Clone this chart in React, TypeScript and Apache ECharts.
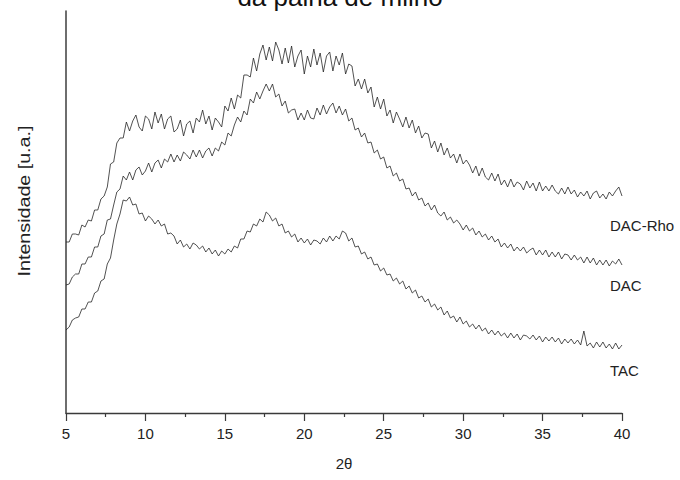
import React, { useEffect, useRef } from "react";
import * as echarts from "echarts";

const THETA_START = 5;
const THETA_STEP = 0.2;

const dacRho = [
  171,171,179,179,178,188,186,193,192,203,
  203,214,217,226,249,251,270,275,275,291,
  282,292,298,286,282,297,294,284,301,290,
  299,284,294,297,281,284,293,277,289,292,
  280,295,291,303,289,297,283,295,291,286,
  307,302,315,304,318,315,338,338,336,355,
  342,359,368,353,366,352,371,363,349,365,
  350,367,346,357,363,339,357,346,364,348,
  360,341,357,361,342,357,348,360,339,349,
  347,327,334,324,334,320,326,306,316,304,
  314,297,303,290,301,294,286,296,285,293,
  280,287,275,280,279,265,272,261,270,258,
  265,255,259,250,259,249,253,248,240,247,
  237,245,236,233,240,232,239,228,233,226,
  234,226,231,229,223,232,225,230,222,231,
  222,227,222,228,222,219,225,219,226,219,
  223,216,221,217,222,214,220,222,215,219,
  214,221,217,222,226,217,
];

const dac = [
  128,129,136,139,139,149,149,156,156,166,
  166,177,179,193,194,208,221,224,237,233,
  241,233,243,246,238,242,250,241,250,253,
  245,254,251,259,251,258,252,261,258,254,
  263,256,263,255,262,265,257,265,262,271,
  268,280,277,288,296,291,302,298,314,310,
  321,314,322,329,322,329,316,319,307,312,
  300,303,304,293,300,293,303,295,294,305,
  298,308,299,306,310,300,307,298,304,292,
  295,283,285,276,280,270,271,260,263,254,
  256,245,247,237,240,232,234,224,225,217,
  221,213,215,207,210,203,208,200,197,201,
  193,196,190,193,189,183,188,182,185,178,
  182,176,179,173,177,171,174,166,170,165,
  169,162,166,162,166,160,163,165,158,163,
  158,163,156,161,156,161,154,159,158,153,
  158,153,156,150,156,150,155,148,153,148,
  153,147,152,149,154,148,
];

const tac = [
  83,86,93,95,96,104,104,111,111,120,
  122,132,134,149,155,173,189,199,213,212,
  216,208,209,199,200,192,197,194,189,193,
  187,189,179,180,177,169,173,166,169,164,
  170,168,164,167,161,165,159,163,157,162,
  159,164,161,167,165,174,174,182,181,189,
  187,194,191,201,198,192,195,187,189,180,
  182,176,179,171,175,170,174,168,173,172,
  169,175,171,177,172,177,174,182,180,172,
  175,166,167,159,161,154,156,148,149,142,
  145,138,139,132,135,129,132,124,127,120,
  123,115,117,111,114,106,109,103,106,98,
  102,95,97,91,96,89,92,86,89,84,
  88,82,85,79,83,78,82,77,80,75,
  80,75,79,73,78,77,74,78,73,77,
  71,76,72,76,71,75,69,74,70,74,
  69,73,68,82,67,70,65,71,66,71,
  65,69,64,70,64,68,
];

const seriesNames = ["DAC-Rho", "DAC", "TAC"];
const titleText = "da palha de milho";
const xAxisName = "2θ";
const yAxisName = "Intensidade [u.a.]";

const toPairs = (vals: number[]) =>
  vals.map((v, i) => [Number((THETA_START + THETA_STEP * i).toFixed(1)), v]);

const FONT = "'Liberation Sans', Arial, sans-serif";

export default function App() {
  const ref = useRef<HTMLDivElement>(null);
  useEffect(() => {
    document.body.style.margin = "0";
    if (!ref.current) return;
    const chart = echarts.init(ref.current, undefined, { renderer: "svg" });
    const lineStyle = { color: "#262626", width: 0.8 };
    const labelStyle = { fontFamily: FONT, fontSize: 15, fill: "#222", align: "left", verticalAlign: "middle" };
    chart.setOption({
      animation: false,
      backgroundColor: "#ffffff",
      grid: { left: 66, right: 58, top: 11, bottom: 67, containLabel: false },
      xAxis: {
        type: "value",
        min: 5,
        max: 40,
        interval: 5,
        name: xAxisName,
        nameLocation: "middle",
        nameGap: 43,
        nameTextStyle: { fontFamily: FONT, fontSize: 15, color: "#222" },
        axisLine: { show: true, onZero: false, lineStyle: { color: "#3a3a3a", width: 1.3 } },
        axisTick: { show: true, length: 8, lineStyle: { color: "#3a3a3a", width: 1.2 } },
        minorTick: { show: true, splitNumber: 2, length: 4, lineStyle: { color: "#3a3a3a", width: 1.2 } },
        axisLabel: { fontFamily: FONT, fontSize: 15, color: "#222", margin: 13 },
        splitLine: { show: false },
      },
      yAxis: {
        type: "value",
        min: 0,
        max: 402,
        axisLine: { show: true, lineStyle: { color: "#4a4a4a", width: 1.6 } },
        axisTick: { show: false },
        axisLabel: { show: false },
        splitLine: { show: false },
      },
      graphic: [
        {
          type: "text",
          x: 340,
          y: -3,
          style: {
            text: titleText,
            fontFamily: FONT,
            fontSize: 26,
            fill: "#111",
            align: "center",
            verticalAlign: "middle",
          },
        },
        {
          type: "text",
          x: 25,
          y: 201,
          rotation: Math.PI / 2,
          scaleX: 1.23,
          style: {
            text: yAxisName,
            fontFamily: FONT,
            fontSize: 16,
            fill: "#222",
            align: "center",
            verticalAlign: "middle",
          },
        },
        { type: "text", x: 610, y: 225, style: { ...labelStyle, text: seriesNames[0] } },
        { type: "text", x: 610, y: 285, style: { ...labelStyle, text: seriesNames[1] } },
        { type: "text", x: 610, y: 370, style: { ...labelStyle, text: seriesNames[2] } },
      ],
      series: [
        { name: seriesNames[0], type: "line", data: toPairs(dacRho), showSymbol: false, lineStyle, silent: true },
        { name: seriesNames[1], type: "line", data: toPairs(dac), showSymbol: false, lineStyle, silent: true },
        { name: seriesNames[2], type: "line", data: toPairs(tac), showSymbol: false, lineStyle, silent: true },
      ],
    });
    return () => chart.dispose();
  }, []);
  return <div ref={ref} style={{ width: 680, height: 480 }} />;
}
